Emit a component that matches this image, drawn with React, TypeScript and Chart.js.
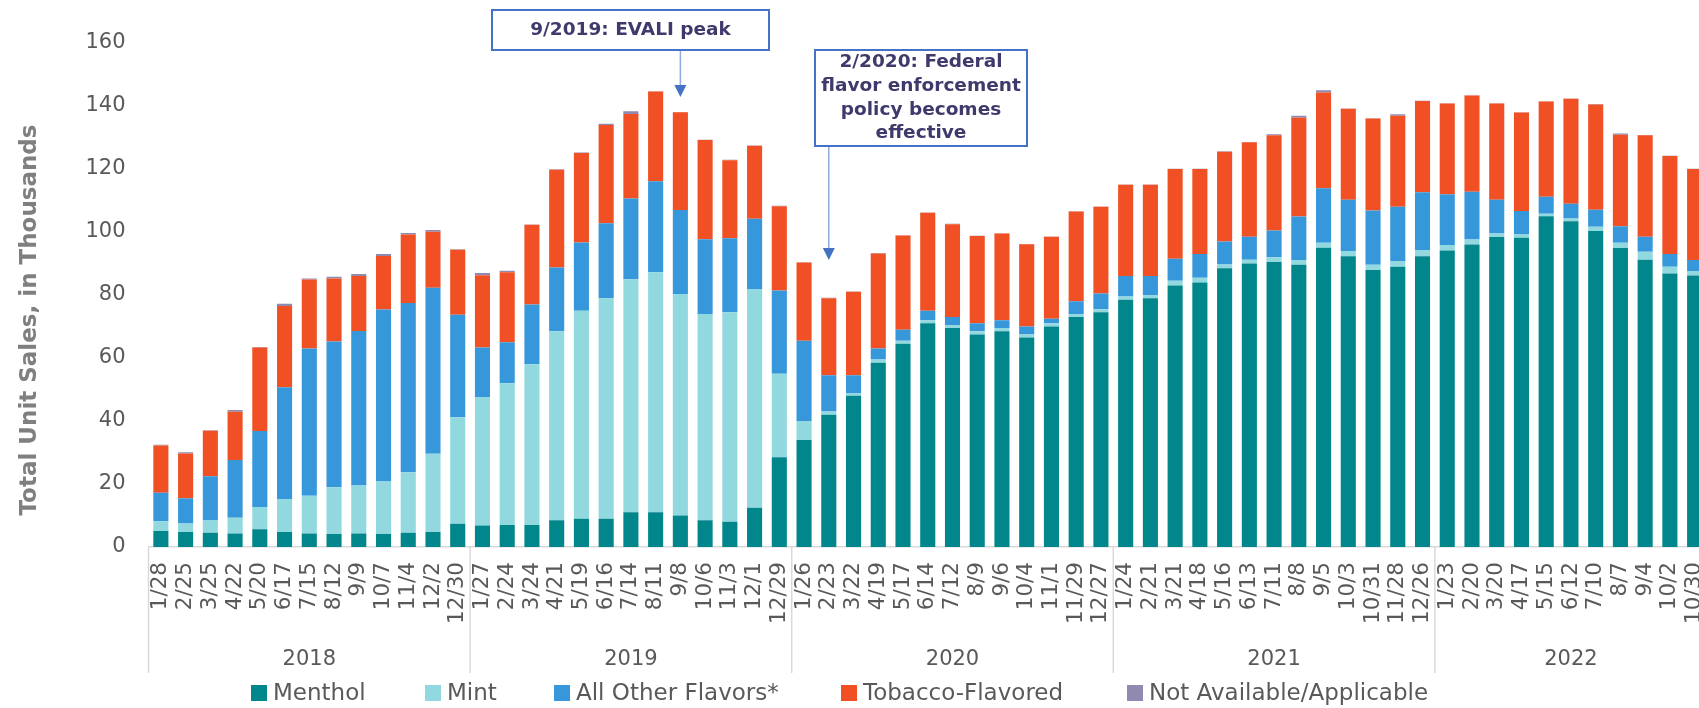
import React, { useEffect, useRef } from "react";
import { Chart, registerables } from "chart.js";

Chart.register(...registerables);

const periods = [
  "1/28","2/25","3/25","4/22","5/20","6/17","7/15","8/12","9/9","10/7","11/4","12/2","12/30",
  "1/27","2/24","3/24","4/21","5/19","6/16","7/14","8/11","9/8","10/6","11/3","12/1","12/29",
  "1/26","2/23","3/22","4/19","5/17","6/14","7/12","8/9","9/6","10/4","11/1","11/29","12/27",
  "1/24","2/21","3/21","4/18","5/16","6/13","7/11","8/8","9/5","10/3","10/31","11/28","12/26",
  "1/23","2/20","3/20","4/17","5/15","6/12","7/10","8/7","9/4","10/2","10/30",
];
const years = ["2018", "2019", "2020", "2021", "2022"];
const yearCounts = [13, 13, 13, 13, 11];

const menthol = [
  5.1,4.8,4.5,4.3,5.6,4.8,4.3,4.1,4.3,4.1,4.5,4.8,7.4,
  6.8,7.0,7.0,8.5,9.0,9.0,11.0,11.0,10.0,8.5,8.0,12.5,28.5,
  34,42,48,58.5,64.5,71,69.5,67.5,68.5,66.5,70,73,74.5,
  78.5,79,83,84,88.5,90,90.5,89.6,95.0,92.3,87.9,89.0,92.3,
  94.1,96.0,98.4,98.2,105.0,103.4,100.3,94.9,91.2,86.8,86.2,
];
const mint = [
  3.1,2.7,3.9,5.0,7.1,10.4,12.0,14.9,15.2,16.7,19.2,24.8,33.8,
  40.8,45.0,51.0,60.0,66.0,70.0,74.0,76.2,70.3,65.5,66.5,69.4,26.5,
  6,1,0.7,1,1,1,1,1,1,1,1,1,1,
  1,1,1.5,1.5,1.2,1.2,1.5,1.5,1.6,1.7,1.7,1.8,2.0,
  1.8,1.6,1.1,1.0,0.8,0.9,1.4,1.7,2.5,2.2,1.4,
];
const otherFlavors = [
  9.0,8.0,14.1,18.3,24.1,35.5,46.7,46.2,49.1,54.6,53.8,52.7,32.5,
  15.7,13.0,19.0,20.2,21.7,23.8,25.6,28.9,26.7,23.7,23.5,22.3,26.4,
  25.5,11.5,5.8,3.5,3.5,3,2.5,2.5,2.5,2.5,1.5,4,5,
  6.5,6,7,7.5,7.3,7.3,8.5,13.8,17.3,16.2,17.2,17.2,18.3,
  16.1,15.2,10.7,7.5,5.4,4.7,5.4,5.2,4.8,4.0,3.5,
];
const tobacco = [
  15.0,14.2,14.4,15.3,26.5,25.8,21.9,20.0,17.4,17.0,21.7,17.8,20.7,
  23.0,22.2,25.3,31.1,28.4,31.2,26.9,28.5,31.0,31.5,24.8,23.2,26.8,
  24.8,24.5,26.5,30.2,29.9,31.1,29.5,27.7,27.5,26.1,26,28.5,27.5,
  29,29,28.5,27,28.5,30,30.2,31.4,30.4,28.9,29.2,28.9,29.0,
  28.8,30.5,30.6,31.2,30.2,33.3,33.4,29.1,32.2,31.1,28.9,
];
const notAvailable = [
  0.3,0.4,0.2,0.6,0.2,0.7,0.3,0.6,0.7,0.6,0.5,0.5,0.1,
  0.7,0.5,0.1,0.1,0.1,0.4,0.8,0.1,0.1,0.1,0.1,0.1,0.1,
  0.1,0.1,0.1,0.1,0.1,0.1,0.1,0.1,0.1,0.1,0.1,0.1,0.1,
  0.1,0.1,0.1,0.1,0.1,0.1,0.3,0.6,0.7,0.1,0.1,0.5,0.1,
  0.1,0.1,0.1,0.1,0.1,0.1,0.1,0.4,0.1,0.1,0.1,
];

const seriesNames = ["Menthol", "Mint", "All Other Flavors*", "Tobacco-Flavored", "Not Available/Applicable"];
const seriesColors = ["#00868B", "#92D9DF", "#3797DB", "#F05023", "#8E8AB0"];

const yTicks = [0, 20, 40, 60, 80, 100, 120, 140, 160];
const yTitle = "Total Unit Sales, in Thousands";
const note1 = ["9/2019: EVALI peak"];
const note1Index = 21;
const note2 = ["2/2020: Federal", "flavor enforcement", "policy becomes", "effective"];
const note2Index = 27;

const FONT = "'DejaVu Sans', 'Noto Sans', sans-serif";

const overlay = {
  id: "overlay",
  afterDraw(chart: any) {
    const ctx = chart.ctx;
    const xs = chart.scales.x;
    const area = chart.chartArea;
    const step = xs.getPixelForValue(1) - xs.getPixelForValue(0);
    ctx.save();

    // group separators and year labels
    let start = 0;
    ctx.strokeStyle = "#D9D9D9";
    ctx.lineWidth = 1.5;
    const drawSep = (i: number) => {
      const x = xs.getPixelForValue(i) - step / 2;
      ctx.beginPath();
      ctx.moveTo(x, area.bottom);
      ctx.lineTo(x, 673);
      ctx.stroke();
    };
    ctx.font = `21px ${FONT}`;
    ctx.fillStyle = "#595959";
    ctx.textAlign = "center";
    ctx.textBaseline = "middle";
    years.forEach((y, k) => {
      drawSep(start);
      const x0 = xs.getPixelForValue(start) - step / 2;
      const x1 = xs.getPixelForValue(start + yearCounts[k] - 1) + step / 2;
      ctx.fillText(y, (x0 + x1) / 2, 660);
      start += yearCounts[k];
    });
    drawSep(start);

    // y title
    ctx.save();
    ctx.translate(30.5, 320);
    ctx.rotate(-Math.PI / 2);
    ctx.font = `bold 23px ${FONT}`;
    ctx.fillStyle = "#7F7F7F";
    ctx.fillText(yTitle, 0, 0);
    ctx.restore();

    // legend
    const legendX = [251, 425, 554, 841, 1127];
    chart.data.datasets.forEach((ds: any, i: number) => {
      ctx.fillStyle = ds.backgroundColor;
      ctx.fillRect(legendX[i], 685, 16, 16);
      ctx.fillStyle = "#595959";
      ctx.font = `23px ${FONT}`;
      ctx.textAlign = "left";
      ctx.fillText(ds.label, legendX[i] + 22, 694);
    });

    // annotations
    const drawNote = (lines: string[], bx: number, by: number, bw: number, bh: number, lh: number, idx: number, tipY: number) => {
      ctx.fillStyle = "#FFFFFF";
      ctx.fillRect(bx, by, bw, bh);
      ctx.strokeStyle = "#4472C4";
      ctx.lineWidth = 2;
      ctx.strokeRect(bx, by, bw, bh);
      ctx.fillStyle = "#3F3A6C";
      ctx.font = `bold 18.5px ${FONT}`;
      ctx.textAlign = "center";
      const cy = by + bh / 2;
      lines.forEach((t, i) => {
        ctx.fillText(t, bx + bw / 2, cy + (i - (lines.length - 1) / 2) * lh);
      });
      const ax = xs.getPixelForValue(idx);
      ctx.strokeStyle = "#8FAADC";
      ctx.lineWidth = 1.5;
      ctx.beginPath();
      ctx.moveTo(ax, by + bh + 1);
      ctx.lineTo(ax, tipY - 12);
      ctx.stroke();
      ctx.fillStyle = "#4472C4";
      ctx.beginPath();
      ctx.moveTo(ax - 6, tipY - 12);
      ctx.lineTo(ax + 6, tipY - 12);
      ctx.lineTo(ax, tipY);
      ctx.closePath();
      ctx.fill();
    };
    drawNote(note1, 492, 10, 277, 40, 24, note1Index, 97);
    drawNote(note2, 815, 50, 212, 96, 23.7, note2Index, 260);

    ctx.restore();
  },
};

export default function App() {
  const ref = useRef<HTMLCanvasElement>(null);
  useEffect(() => {
    if (!ref.current) return;
    Chart.defaults.font.family = FONT;
    const series = [menthol, mint, otherFlavors, tobacco, notAvailable];
    const chart = new Chart(ref.current, {
      type: "bar",
      data: {
        labels: periods,
        datasets: series.map((d, i) => ({
          label: seriesNames[i],
          data: d,
          backgroundColor: seriesColors[i],
          borderWidth: 0,
          barPercentage: 0.61,
          categoryPercentage: 1,
          stack: "s",
        })),
      },
      options: {
        responsive: false,
        animation: false,
        devicePixelRatio: 1,
        layout: { padding: { top: 43, right: 13, bottom: 0, left: 0 } },
        plugins: { legend: { display: false }, tooltip: { enabled: false } },
        scales: {
          x: {
            stacked: true,
            offset: true,
            grid: { display: false, drawTicks: false },
            border: { display: true, color: "#D9D9D9", width: 1.5 },
            ticks: {
              autoSkip: false,
              minRotation: 90,
              maxRotation: 90,
              padding: 15,
              color: "#595959",
              font: { size: 21.5, family: FONT },
            },
            afterFit: (s: any) => {
              s.height = 161;
              s.paddingLeft = 0;
              s.paddingRight = 0;
            },
          },
          y: {
            stacked: true,
            min: 0,
            max: 160,
            afterBuildTicks: (s: any) => {
              s.ticks = yTicks.map((v) => ({ value: v }));
            },
            grid: { display: false, drawTicks: false },
            border: { display: false },
            ticks: {
              padding: 23,
              color: "#595959",
              font: { size: 21, family: FONT },
            },
            afterFit: (s: any) => {
              s.width = 148.5;
              s.paddingTop = 0;
              s.paddingBottom = 0;
            },
          },
        },
      },
      plugins: [overlay],
    });
    return () => chart.destroy();
  }, []);
  return (
    <div style={{ position: "fixed", left: 0, top: 0, width: 1699, height: 708, overflow: "hidden", background: "#fff" }}>
      <canvas ref={ref} width={1720} height={708} style={{ display: "block" }} />
    </div>
  );
}
